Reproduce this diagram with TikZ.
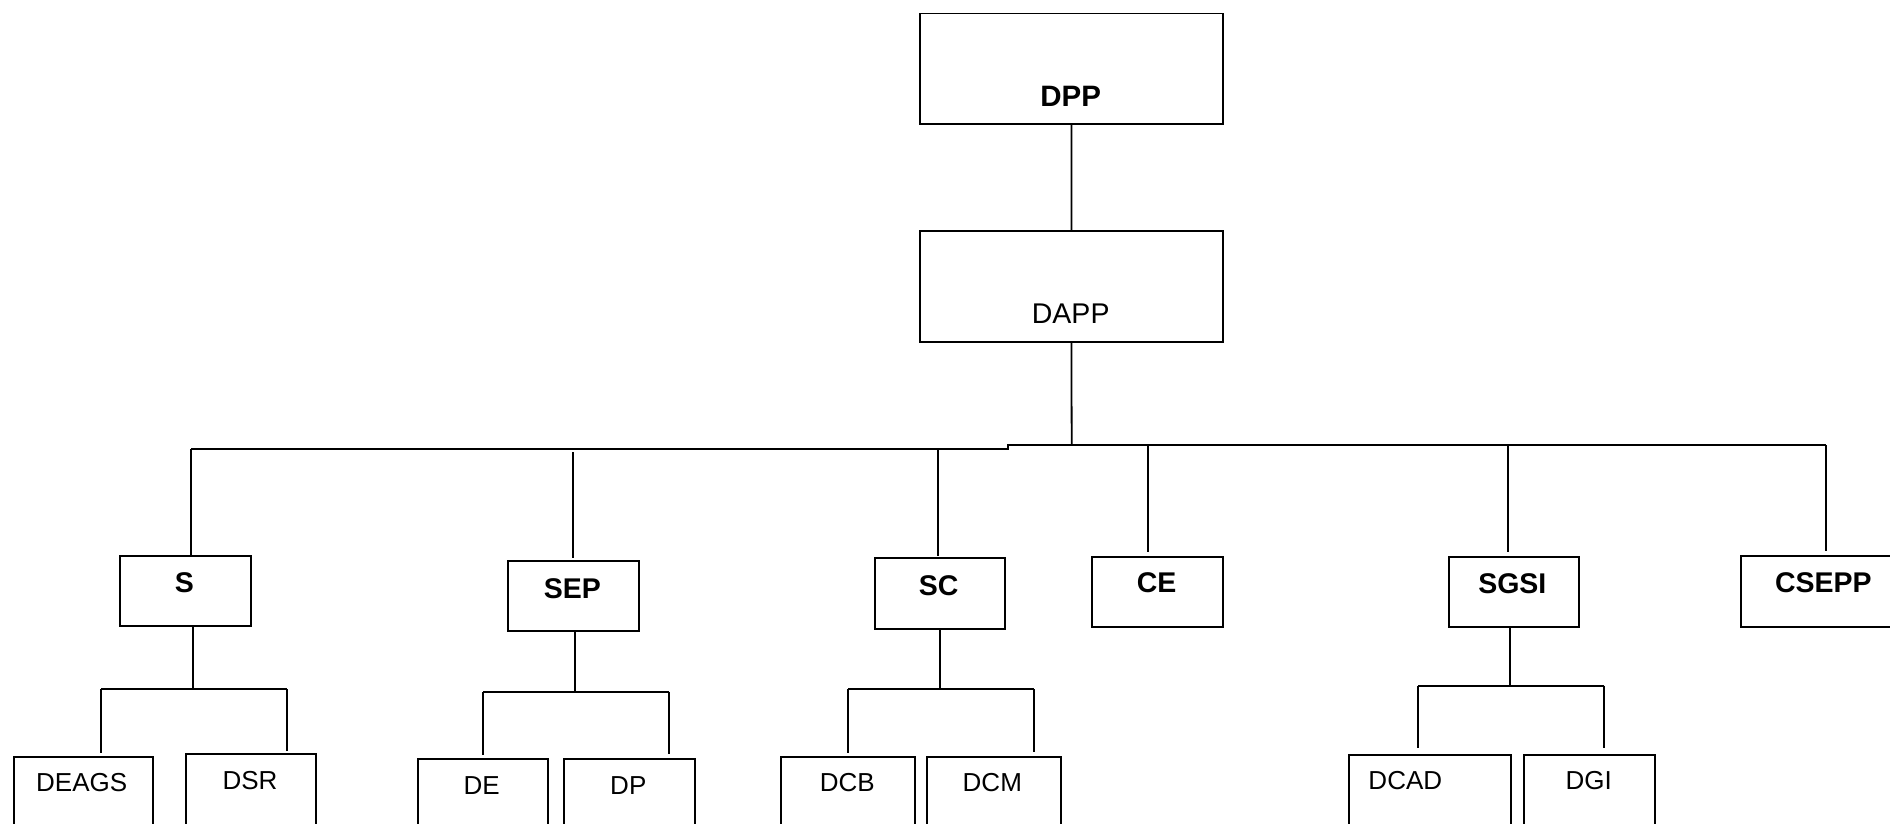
\documentclass[tikz,border=0pt]{standalone}
\usepackage{fontspec}
\setmainfont{Liberation Sans}
\begin{document}
\begin{tikzpicture}[x=1pt,y=-1pt,line width=1.8pt,
  box/.style={draw,line width=1.8pt,inner sep=0pt,anchor=north west},
  btxt/.style={anchor=base,inner sep=0pt,font=\fontsize{28.5}{30}\selectfont\bfseries},
  rtxt/.style={anchor=base,inner sep=0pt,font=\fontsize{26}{28}\selectfont},
  conn/.style={line width=1.8pt}]
\clip (0,0) rectangle (1890,824);
% boxes
\node[box,minimum width=302.7pt,minimum height=110.3pt] (dpp) at (919.3,12.7) {};
\node[box,minimum width=303pt,minimum height=110.7pt] (dapp) at (919,230.3) {};
\node[box,minimum width=130.7pt,minimum height=70pt] (s) at (119,555) {};
\node[box,minimum width=130.7pt,minimum height=70.3pt] (sep) at (507,559.7) {};
\node[box,minimum width=130.3pt,minimum height=70.4pt] (sc) at (873.7,557.3) {};
\node[box,minimum width=130.7pt,minimum height=70pt] (ce) at (1091.3,555.7) {};
\node[box,minimum width=130.3pt,minimum height=70.3pt] (sgsi) at (1447.7,555.7) {};
\node[box,minimum width=170pt,minimum height=70.7pt] (csepp) at (1739.7,555) {};
\node[box,minimum width=138.7pt,minimum height=80pt] (deags) at (13,755.7) {};
\node[box,minimum width=130pt,minimum height=80pt] (dsr) at (185,753) {};
\node[box,minimum width=130.3pt,minimum height=80pt] (de) at (417,758) {};
\node[box,minimum width=130.7pt,minimum height=80pt] (dp) at (563,758) {};
\node[box,minimum width=134.3pt,minimum height=80pt] (dcb) at (779.7,755.7) {};
\node[box,minimum width=134.3pt,minimum height=80pt] (dcm) at (925.7,755.7) {};
\node[box,minimum width=162.3pt,minimum height=80pt] (dcad) at (1347.7,753.7) {};
\node[box,minimum width=130.7pt,minimum height=80pt] (dgi) at (1523.3,753.7) {};
% labels
\node[btxt,font=\fontsize{29.5}{30}\selectfont\bfseries] (tdpp) at (1070.7,107) {DPP};
\node[rtxt,font=\fontsize{28.5}{30}\selectfont] (tdapp) at (1070.7,323) {DAPP};
\node[btxt] (ts) at (184.3,592.7) {S};
\node[btxt] (tsep) at (572.3,598.3) {SEP};
\node[btxt] (tsc) at (938.7,595) {SC};
\node[btxt] (tce) at (1156.7,592.7) {CE};
\node[btxt] (tsgsi) at (1512.3,593.3) {SGSI};
\node[btxt] (tcsepp) at (1823.3,592.7) {CSEPP};
\node[rtxt] (tdeags) at (81.7,791.7) {DEAGS};
\node[rtxt] (tdsr) at (250,789.3) {DSR};
\node[rtxt] (tde) at (481.7,794) {DE};
\node[rtxt] (tdp) at (628.3,794) {DP};
\node[rtxt] (tdcb) at (847.3,791.7) {DCB};
\node[rtxt] (tdcm) at (992.3,791.7) {DCM};
\node[rtxt] (tdcad) at (1405.3,789.3) {DCAD};
\node[rtxt] (tdgi) at (1588.7,789.3) {DGI};
% main bus
\coordinate (bl) at (191,449);
\coordinate (st1) at (1008.3,449);
\coordinate (st2) at (1008.3,445);
\coordinate (br) at (1826,445);
\coordinate (jd) at (1071.7,445);
\coordinate (jsep) at (573.3,452.3);
\coordinate (jsc) at (937.7,449);
\coordinate (jce) at (1148,445);
\coordinate (jsgsi) at (1508,445);
\draw[conn] (dpp.south) -- (dapp.north);
\draw[conn] (dapp.south) -- (jd);
\draw[conn] (bl) -- (st1) -- (st2) -- (br);
\draw[conn] (bl) -- (bl |- s.north);
\draw[conn,shorten >=2pt] (jsep) -- (jsep |- sep.north);
\draw[conn,shorten >=1pt] (jsc) -- (jsc |- sc.north);
\draw[conn,shorten >=4pt] (jce) -- (jce |- ce.north);
\draw[conn,shorten >=4pt] (jsgsi) -- (jsgsi |- sgsi.north);
\draw[conn,shorten >=4pt] (br) -- (br |- csepp.north);
% S subtree
\coordinate (sj) at (193.3,689);
\coordinate (sl) at (101,689);
\coordinate (sr) at (287.3,689);
\draw[conn] (s.south -| sj) -- (sj);
\draw[conn] (sl) -- (sr);
\draw[conn,shorten >=3pt] (sl) -- (sl |- deags.north);
\draw[conn,shorten >=2pt] (sr) -- (sr |- dsr.north);
% SEP subtree
\coordinate (pj) at (575.3,691.7);
\coordinate (pl) at (483.3,691.7);
\coordinate (pr) at (669.3,691.7);
\draw[conn] (sep.south -| pj) -- (pj);
\draw[conn] (pl) -- (pr);
\draw[conn,shorten >=3pt] (pl) -- (pl |- de.north);
\draw[conn,shorten >=4.5pt] (pr) -- (pr |- dp.north);
% SC subtree
\coordinate (cj) at (940,689);
\coordinate (cl) at (848,689);
\coordinate (cr) at (1034,689);
\draw[conn] (sc.south -| cj) -- (cj);
\draw[conn] (cl) -- (cr);
\draw[conn,shorten >=2.5pt] (cl) -- (cl |- dcb.north);
\draw[conn,shorten >=4pt] (cr) -- (cr |- dcm.north);
% SGSI subtree
\coordinate (gj) at (1510,685.7);
\coordinate (gl) at (1418,685.7);
\coordinate (gr) at (1603.7,685.7);
\draw[conn] (sgsi.south -| gj) -- (gj);
\draw[conn] (gl) -- (gr);
\draw[conn,shorten >=6pt] (gl) -- (gl |- dcad.north);
\draw[conn,shorten >=6pt] (gr) -- (gr |- dgi.north);
\end{tikzpicture}
\end{document}
